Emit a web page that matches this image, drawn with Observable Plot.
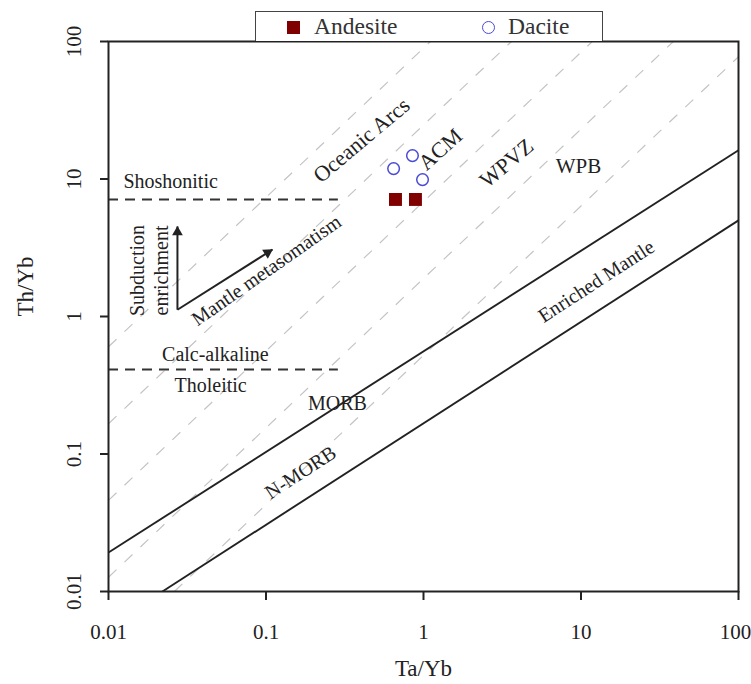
<!DOCTYPE html>
<html><head><meta charset="utf-8">
<script src="https://cdn.jsdelivr.net/npm/d3@7"></script>
<script src="https://cdn.jsdelivr.net/npm/@observablehq/plot@0.6"></script>
<style>
body{margin:0;background:#fff;}
#wrap{position:relative;width:751px;height:684px;font-family:"Liberation Serif",serif;color:#333;}
#legend{position:absolute;left:255px;top:11px;width:348px;height:30px;border:1.5px solid #444;border-bottom:none;box-sizing:border-box;background:#fff;}
.sw{position:absolute;}
.lt{position:absolute;top:-1px;font-size:23.5px;line-height:31px;white-space:nowrap;}
</style></head>
<body><div id="wrap"><div id="chart"></div><div id="legend"></div></div>
<script>
// ---- data ----
const xTicks = [0.01, 0.1, 1, 10, 100];
const xTickLabels = ["0.01", "0.1", "1", "10", "100"];
const yTicks = [0.01, 0.1, 1, 10, 100];
const yTickLabels = ["0.01", "0.1", "1", "10", "100"];

const andesiteTaYb = [0.664, 0.889];
const andesiteThYb = [7.1, 7.1];
const daciteTaYb = [0.646, 0.851, 0.986];
const daciteThYb = [11.9, 14.8, 9.9];

// MORB-OIB array boundaries (solid)
const arrayX1 = [0.01, 0.022];
const arrayY1 = [0.0192, 0.01];
const arrayX2 = [100, 100];
const arrayY2 = [16.2, 5.0];

// grey dashed Th/Ta guide lines
const guideX1 = [0.01, 0.01, 0.01, 0.01, 0.0262];
const guideY1 = [0.602, 0.166, 0.046, 0.0127, 0.01];
const guideX2 = [1.107, 3.62, 11.8, 38.6, 100];
const guideY2 = [100, 100, 100, 100, 77.5];

// horizontal series boundaries (black dashed)
const boundaryY = [7.1, 0.412];
const boundaryXStart = [0.01, 0.01];
const boundaryXEnd = [0.288, 0.288];

// annotation labels
const labelTexts = ["Shoshonitic", "Calc-alkaline", "Tholeitic", "MORB", "N-MORB", "Enriched Mantle", "WPB", "WPVZ", "ACM", "Oceanic Arcs", "Mantle metasomatism", "Subduction", "enrichment"];
const labelX = [0.0248, 0.0477, 0.0445, 0.284, 0.166, 12.5, 9.64, 3.37, 1.28, 0.404, 0.1007, 0.0153, 0.0217];
const labelY = [9.6, 0.53, 0.315, 0.233, 0.0733, 1.80, 12.3, 13.0, 16.4, 19.1, 2.16, 2.16, 2.16];
const labelAngle = [0, 0, 0, 0, -33, -33, 0, -40, -42, -40, -35, -90, -90];
const labelSize = [20, 20, 20, 20, 20, 20, 21, 22, 22, 22, 20, 20, 20];

// vector arrows
const arrowX1 = [0.0274, 0.0274];
const arrowY1 = [1.12, 1.12];
const arrowX2 = [0.0274, 0.110];
const arrowY2 = [4.52, 3.07];
const arrowHeadRotate = [0, 58];
const arrowHeadDx = [0, -4.9];
const arrowHeadDy = [5.8, 3.1];

// ---- tables ----
const xLab = new Map(xTicks.map((t, i) => [t, xTickLabels[i]]));
const yLab = new Map(yTicks.map((t, i) => [t, yTickLabels[i]]));
const andesite = andesiteTaYb.map((x, i) => ({x, y: andesiteThYb[i]}));
const dacite = daciteTaYb.map((x, i) => ({x, y: daciteThYb[i]}));
const arrays = arrayX1.map((x1, i) => ({x1, y1: arrayY1[i], x2: arrayX2[i], y2: arrayY2[i]}));
const guides = guideX1.map((x1, i) => ({x1, y1: guideY1[i], x2: guideX2[i], y2: guideY2[i]}));
const bounds = boundaryY.map((y, i) => ({x1: boundaryXStart[i], x2: boundaryXEnd[i], y}));
const labels = labelTexts.map((t, i) => ({t, x: labelX[i], y: labelY[i], a: labelAngle[i], s: labelSize[i]}));
const arrows = arrowX1.map((x1, i) => ({x1, y1: arrowY1[i], x2: arrowX2[i], y2: arrowY2[i], r: arrowHeadRotate[i], dx: arrowHeadDx[i], dy: arrowHeadDy[i]}));

const ink = "#222";
const marks = [
  Plot.link(guides, {x1: "x1", y1: "y1", x2: "x2", y2: "y2", stroke: "#c4c4c4", strokeWidth: 1.2, strokeDasharray: "11,11"}),
  Plot.link(arrays, {x1: "x1", y1: "y1", x2: "x2", y2: "y2", stroke: ink, strokeWidth: 1.9}),
  Plot.ruleY(bounds, {x1: "x1", x2: "x2", y: "y", stroke: "#333", strokeWidth: 2, strokeDasharray: "10,7"}),
  Plot.link(arrows, {x1: "x1", y1: "y1", x2: "x2", y2: "y2", stroke: ink, strokeWidth: 2})
];
arrows.forEach(a => {
  marks.push(Plot.dot([a], {x: "x2", y: "y2", symbol: "triangle", r: 4, fill: ink, stroke: "none", rotate: a.r, dx: a.dx, dy: a.dy}));
});
marks.push(
  Plot.dot(andesite, {x: "x", y: "y", symbol: "square", r: 7.3, fill: "#800000", stroke: "none"}),
  Plot.dot(dacite, {x: "x", y: "y", symbol: "circle", r: 5.8, fill: "none", stroke: "#4a4ad6", strokeWidth: 1.5}),
  Plot.text(labels, {x: "x", y: "y", text: "t", rotate: "a", fontSize: "s", fill: ink}),
  Plot.text(["Ta/Yb"], {text: d => d, frameAnchor: "bottom", dy: 84, fontSize: 23, fill: ink}),
  Plot.text(["Th/Yb"], {text: d => d, frameAnchor: "left", dx: -83, rotate: -90, fontSize: 23, fill: ink}),
  Plot.frame({stroke: ink, strokeWidth: 2}),
  Plot.axisX({ticks: xTicks, tickFormat: () => "", tickSize: 9, strokeWidth: 2, label: null, stroke: ink}),
  Plot.text(xTicks.slice(0, -1), {x: d => d, text: d => xLab.get(d), frameAnchor: "bottom", dy: 33, lineAnchor: "top", fontSize: 21, fill: ink}),
  Plot.text(xTicks.slice(-1), {x: d => d, text: d => xLab.get(d), frameAnchor: "bottom", dy: 33, dx: -3, lineAnchor: "top", fontSize: 21, fill: ink}),
  Plot.axisY({ticks: yTicks, tickFormat: d => yLab.get(d), tickSize: 8, tickRotate: -90, textAnchor: "middle", lineAnchor: "bottom", tickPadding: 20, strokeWidth: 2, fontSize: 21, label: null, stroke: ink, fill: ink})
);

const plot = Plot.plot({
  width: 751, height: 684,
  marginTop: 41, marginLeft: 108, marginRight: 13, marginBottom: 93,
  style: {fontFamily: "Liberation Serif", fontSize: "21px", color: ink, background: "white"},
  x: {type: "log", domain: [0.01, 100]},
  y: {type: "log", domain: [0.01, 100]},
  marks
});
document.getElementById("chart").appendChild(plot);

// legend
const legendItems = [
  {name: "Andesite", kind: "square", swLeft: 31, textLeft: 58},
  {name: "Dacite", kind: "circle", swLeft: 226, textLeft: 252}
];
const lg = document.getElementById("legend");
legendItems.forEach(it => {
  const sw = document.createElement("div");
  sw.className = "sw";
  if (it.kind === "square") {
    Object.assign(sw.style, {left: it.swLeft + "px", top: "9px", width: "13px", height: "13px", background: "#800000"});
  } else {
    Object.assign(sw.style, {left: it.swLeft + "px", top: "9px", width: "13px", height: "13px", border: "1.5px solid #4a4ad6", borderRadius: "50%", boxSizing: "border-box"});
  }
  lg.appendChild(sw);
  const t = document.createElement("div");
  t.className = "lt";
  t.style.left = it.textLeft + "px";
  t.textContent = it.name;
  lg.appendChild(t);
});
</script></body></html>
